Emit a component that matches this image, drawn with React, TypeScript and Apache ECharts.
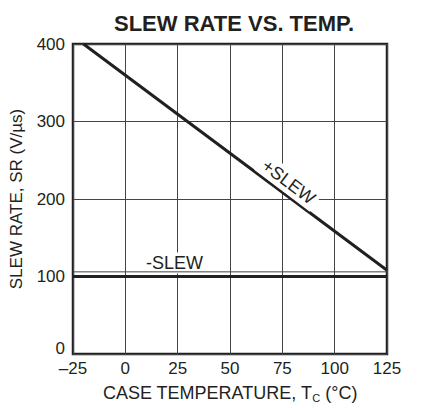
import React, { useEffect, useRef } from "react";
import * as echarts from "echarts";

const xTicks = [-25, 0, 25, 50, 75, 100, 125];
const yTicks = [0, 100, 200, 300, 400];
const plusSlew: [number, number][] = [[-20, 400], [125, 108]];
const minusSlew: [number, number][] = [[-25, 100], [125, 100]];
const minusSlewThin: [number, number][] = [[-25, 106], [125, 106]];
const plusLabel = { name: "+SLEW", coord: [78, 222] };
const minusLabel = { name: "-SLEW", coord: [23.5, 117.5] };

const FONT = "Liberation Sans, Arial, Helvetica, sans-serif";
const INK = "#231f20";

export default function App() {
  const ref = useRef<HTMLDivElement>(null);
  useEffect(() => {
    if (!ref.current) return;
    const chart = echarts.init(ref.current, undefined, { renderer: "svg" });
    chart.setOption({
      animation: false,
      backgroundColor: "#fff",
      textStyle: { fontFamily: FONT },
      title: {
        text: "SLEW RATE VS. TEMP.",
        left: 229,
        textAlign: "center",
        top: 7,
        textStyle: { fontFamily: FONT, fontSize: 22, fontWeight: "bold", color: INK },
      },
      grid: {
        left: 70,
        right: 35,
        top: 44,
        bottom: 47,
        show: true,
        borderColor: INK,
        borderWidth: 2.5,
        backgroundColor: "transparent",
      },
      xAxis: {
        type: "value",
        min: xTicks[0],
        max: xTicks[xTicks.length - 1],
        interval: 25,
        axisLine: { show: false },
        axisTick: { show: false },
        splitLine: { show: true, lineStyle: { color: "#444", width: 1 } },
        axisLabel: {
          color: INK,
          fontSize: 17,
          fontFamily: FONT,
          margin: 6,
          formatter: (v: number) => (v < 0 ? "\u2013" + Math.abs(v) : String(v)),
        },
        name: "{a|CASE TEMPERATURE, T}{s|C}{a| (°C)}",
        nameLocation: "middle",
        nameGap: 28,
        nameTextStyle: {
          rich: {
            a: { fontSize: 18, fontFamily: FONT, color: INK, lineHeight: 22 },
            s: { fontSize: 11, fontFamily: FONT, color: INK, lineHeight: 22, padding: [9, 0, 0, 0] },
          },
        },
      },
      yAxis: {
        type: "value",
        min: yTicks[0],
        max: yTicks[yTicks.length - 1],
        interval: 100,
        axisLine: { show: false },
        axisTick: { show: false },
        splitLine: { show: true, lineStyle: { color: "#444", width: 1 } },
        axisLabel: {
          color: INK,
          fontSize: 17,
          fontFamily: FONT,
          margin: 8,
          formatter: (v: number) => (v === 0 ? "{z|0}" : String(v)),
          rich: { z: { fontSize: 17, fontFamily: FONT, color: INK, padding: [0, 0, 12, 0] } },
        },
        name: "SLEW RATE, SR (V/µs)",
        nameLocation: "middle",
        nameGap: 48,
        nameTextStyle: { fontSize: 17, fontFamily: FONT, color: INK },
      },
      series: [
        {
          type: "line",
          data: minusSlewThin,
          symbol: "none",
          lineStyle: { color: "#444", width: 1 },
          z: 5,
        },
        {
          type: "line",
          data: minusSlew,
          symbol: "none",
          lineStyle: { color: INK, width: 3 },
          z: 4,
          markPoint: {
            symbol: "circle",
            symbolSize: 0,
            data: [
              {
                coord: minusLabel.coord,
                label: {
                  show: true,
                  formatter: minusLabel.name,
                  position: "inside",
                  fontSize: 18,
                  fontFamily: FONT,
                  color: INK,
                  backgroundColor: "#fff",
                  padding: [2, 1, 1, 1],
                },
              },
            ],
          },
        },
        {
          type: "line",
          data: plusSlew,
          symbol: "none",
          lineStyle: { color: INK, width: 3 },
          z: 4,
          markPoint: {
            symbol: "circle",
            symbolSize: 0,
            data: [
              {
                coord: plusLabel.coord,
                label: {
                  show: true,
                  formatter: plusLabel.name,
                  position: "inside",
                  rotate: -37,
                  fontSize: 18,
                  fontFamily: FONT,
                  color: INK,
                  backgroundColor: "#fff",
                  padding: [3, 4, 1, 4],
                },
              },
            ],
          },
        },
      ],
    });
    return () => chart.dispose();
  }, []);
  return <div ref={ref} style={{ width: 422, height: 408, position: "absolute", left: 0, top: 0 }} />;
}
